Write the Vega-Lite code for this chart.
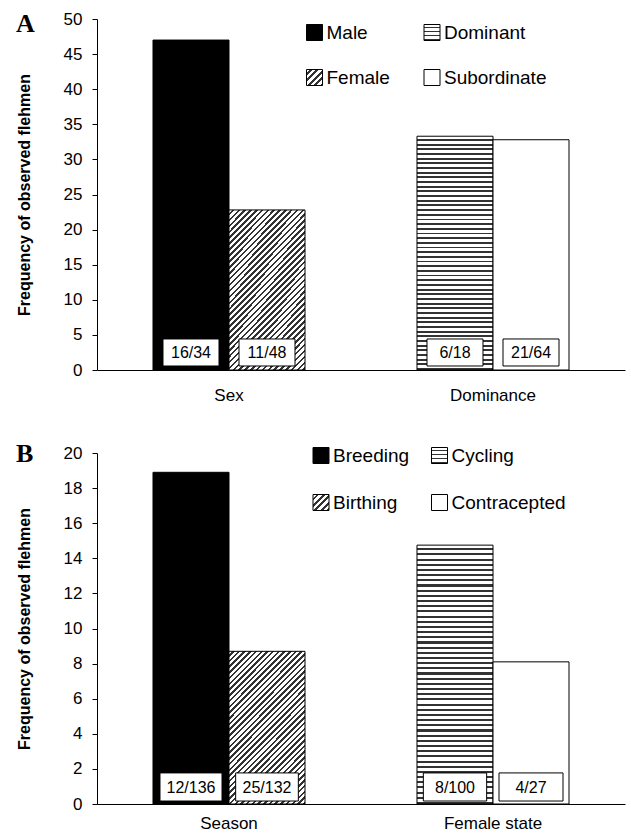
{
  "$schema": "https://vega.github.io/schema/vega-lite/v6.json",
  "background": "#ffffff",
  "padding": {"left": 16, "top": 10, "right": 5, "bottom": 5},
  "spacing": 38,
  "config": {
    "font": "Liberation Sans",
    "view": {"stroke": null},
    "axis": {"grid": false, "domainColor": "#000", "tickColor": "#000", "labelColor": "#000", "titleColor": "#000", "labelFont": "Liberation Sans", "titleFont": "Liberation Sans"}
  },
  "datasets": {
    "a": [
      {"group": "Sex", "pos": 1, "cat": "Male", "value": 47, "label": "16/34"},
      {"group": "Sex", "pos": 2, "cat": "Female", "value": 22.8, "label": "11/48"},
      {"group": "Dominance", "pos": 1, "cat": "Dominant", "value": 33.3, "label": "6/18"},
      {"group": "Dominance", "pos": 2, "cat": "Subordinate", "value": 32.8, "label": "21/64"}
    ],
    "b": [
      {"group": "Season", "pos": 1, "cat": "Breeding", "value": 18.9, "label": "12/136"},
      {"group": "Season", "pos": 2, "cat": "Birthing", "value": 8.7, "label": "25/132"},
      {"group": "Female state", "pos": 1, "cat": "Cycling", "value": 14.75, "label": "8/100"},
      {"group": "Female state", "pos": 2, "cat": "Contracepted", "value": 8.1, "label": "4/27"}
    ],
    "legA": [
      {"cat": "Male", "lcol": 0, "lrow": 0},
      {"cat": "Female", "lcol": 0, "lrow": 1},
      {"cat": "Dominant", "lcol": 1, "lrow": 0},
      {"cat": "Subordinate", "lcol": 1, "lrow": 1}
    ],
    "legB": [
      {"cat": "Breeding", "lcol": 0, "lrow": 0},
      {"cat": "Birthing", "lcol": 0, "lrow": 1},
      {"cat": "Cycling", "lcol": 1, "lrow": 0},
      {"cat": "Contracepted", "lcol": 1, "lrow": 1}
    ]
  },
  "vconcat": [
    {
      "title": {"text": "A", "anchor": "start", "frame": "bounds", "font": "Liberation Serif", "fontSize": 26, "fontWeight": "bold", "color": "#000", "baseline": "alphabetic", "offset": -48},
      "width": 528,
      "height": 351,
      "layer": [
        {
          "data": {"name": "a"},
          "encoding": {
            "x": {"field": "group", "type": "nominal", "sort": ["Sex", "Dominance"], "scale": {"paddingInner": 0, "paddingOuter": 0}, "axis": {"title": null, "labelAngle": 0, "ticks": false, "labelPadding": 17, "labelFontSize": 17}},
            "xOffset": {"field": "pos", "type": "nominal", "scale": {"paddingInner": 0, "paddingOuter": 0.7368}},
            "y": {"field": "value", "type": "quantitative", "scale": {"domain": [0, 50], "nice": false}, "axis": {"values": [0, 5, 10, 15, 20, 25, 30, 35, 40, 45, 50], "title": "Frequency of observed flehmen", "titleFontSize": 16, "titleFontWeight": "bold", "titlePadding": 31, "labelFontSize": 17, "tickSize": 5, "labelPadding": 10}}
          },
          "layer": [
            {"transform": [{"filter": "datum.cat === 'Male'"}], "mark": {"type": "bar", "fill": "#000", "stroke": "#000", "strokeWidth": 1}},
            {"transform": [{"filter": "datum.cat === 'Female'"}], "mark": {"type": "bar", "stroke": "#000", "strokeWidth": 1, "fill": {"gradient": "linear", "x1": 0, "y1": 0, "x2": 0.58, "y2": 1.2, "stops": [
        {"offset":0,"color":"#fff"},{"offset":0.014,"color":"#fff"},{"offset":0.014,"color":"#333"},{"offset":0.025,"color":"#333"},{"offset":0.025,"color":"#fff"},{"offset":0.039,"color":"#fff"},{"offset":0.039,"color":"#333"},{"offset":0.05,"color":"#333"},{"offset":0.05,"color":"#fff"},{"offset":0.064,"color":"#fff"},{"offset":0.064,"color":"#333"},{"offset":0.075,"color":"#333"},{"offset":0.075,"color":"#fff"},{"offset":0.089,"color":"#fff"},{"offset":0.089,"color":"#333"},{"offset":0.1,"color":"#333"},
        {"offset":0.1,"color":"#fff"},{"offset":0.114,"color":"#fff"},{"offset":0.114,"color":"#333"},{"offset":0.125,"color":"#333"},{"offset":0.125,"color":"#fff"},{"offset":0.139,"color":"#fff"},{"offset":0.139,"color":"#333"},{"offset":0.15,"color":"#333"},{"offset":0.15,"color":"#fff"},{"offset":0.164,"color":"#fff"},{"offset":0.164,"color":"#333"},{"offset":0.175,"color":"#333"},{"offset":0.175,"color":"#fff"},{"offset":0.189,"color":"#fff"},{"offset":0.189,"color":"#333"},{"offset":0.2,"color":"#333"},
        {"offset":0.2,"color":"#fff"},{"offset":0.214,"color":"#fff"},{"offset":0.214,"color":"#333"},{"offset":0.225,"color":"#333"},{"offset":0.225,"color":"#fff"},{"offset":0.239,"color":"#fff"},{"offset":0.239,"color":"#333"},{"offset":0.25,"color":"#333"},{"offset":0.25,"color":"#fff"},{"offset":0.264,"color":"#fff"},{"offset":0.264,"color":"#333"},{"offset":0.275,"color":"#333"},{"offset":0.275,"color":"#fff"},{"offset":0.289,"color":"#fff"},{"offset":0.289,"color":"#333"},{"offset":0.3,"color":"#333"},
        {"offset":0.3,"color":"#fff"},{"offset":0.314,"color":"#fff"},{"offset":0.314,"color":"#333"},{"offset":0.325,"color":"#333"},{"offset":0.325,"color":"#fff"},{"offset":0.339,"color":"#fff"},{"offset":0.339,"color":"#333"},{"offset":0.35,"color":"#333"},{"offset":0.35,"color":"#fff"},{"offset":0.364,"color":"#fff"},{"offset":0.364,"color":"#333"},{"offset":0.375,"color":"#333"},{"offset":0.375,"color":"#fff"},{"offset":0.389,"color":"#fff"},{"offset":0.389,"color":"#333"},{"offset":0.4,"color":"#333"},
        {"offset":0.4,"color":"#fff"},{"offset":0.414,"color":"#fff"},{"offset":0.414,"color":"#333"},{"offset":0.425,"color":"#333"},{"offset":0.425,"color":"#fff"},{"offset":0.439,"color":"#fff"},{"offset":0.439,"color":"#333"},{"offset":0.45,"color":"#333"},{"offset":0.45,"color":"#fff"},{"offset":0.464,"color":"#fff"},{"offset":0.464,"color":"#333"},{"offset":0.475,"color":"#333"},{"offset":0.475,"color":"#fff"},{"offset":0.489,"color":"#fff"},{"offset":0.489,"color":"#333"},{"offset":0.5,"color":"#333"},
        {"offset":0.5,"color":"#fff"},{"offset":0.514,"color":"#fff"},{"offset":0.514,"color":"#333"},{"offset":0.525,"color":"#333"},{"offset":0.525,"color":"#fff"},{"offset":0.539,"color":"#fff"},{"offset":0.539,"color":"#333"},{"offset":0.55,"color":"#333"},{"offset":0.55,"color":"#fff"},{"offset":0.564,"color":"#fff"},{"offset":0.564,"color":"#333"},{"offset":0.575,"color":"#333"},{"offset":0.575,"color":"#fff"},{"offset":0.589,"color":"#fff"},{"offset":0.589,"color":"#333"},{"offset":0.6,"color":"#333"},
        {"offset":0.6,"color":"#fff"},{"offset":0.614,"color":"#fff"},{"offset":0.614,"color":"#333"},{"offset":0.625,"color":"#333"},{"offset":0.625,"color":"#fff"},{"offset":0.639,"color":"#fff"},{"offset":0.639,"color":"#333"},{"offset":0.65,"color":"#333"},{"offset":0.65,"color":"#fff"},{"offset":0.664,"color":"#fff"},{"offset":0.664,"color":"#333"},{"offset":0.675,"color":"#333"},{"offset":0.675,"color":"#fff"},{"offset":0.689,"color":"#fff"},{"offset":0.689,"color":"#333"},{"offset":0.7,"color":"#333"},
        {"offset":0.7,"color":"#fff"},{"offset":0.714,"color":"#fff"},{"offset":0.714,"color":"#333"},{"offset":0.725,"color":"#333"},{"offset":0.725,"color":"#fff"},{"offset":0.739,"color":"#fff"},{"offset":0.739,"color":"#333"},{"offset":0.75,"color":"#333"},{"offset":0.75,"color":"#fff"},{"offset":0.764,"color":"#fff"},{"offset":0.764,"color":"#333"},{"offset":0.775,"color":"#333"},{"offset":0.775,"color":"#fff"},{"offset":0.789,"color":"#fff"},{"offset":0.789,"color":"#333"},{"offset":0.8,"color":"#333"},
        {"offset":0.8,"color":"#fff"},{"offset":0.814,"color":"#fff"},{"offset":0.814,"color":"#333"},{"offset":0.825,"color":"#333"},{"offset":0.825,"color":"#fff"},{"offset":0.839,"color":"#fff"},{"offset":0.839,"color":"#333"},{"offset":0.85,"color":"#333"},{"offset":0.85,"color":"#fff"},{"offset":0.864,"color":"#fff"},{"offset":0.864,"color":"#333"},{"offset":0.875,"color":"#333"},{"offset":0.875,"color":"#fff"},{"offset":0.889,"color":"#fff"},{"offset":0.889,"color":"#333"},{"offset":0.9,"color":"#333"},
        {"offset":0.9,"color":"#fff"},{"offset":0.914,"color":"#fff"},{"offset":0.914,"color":"#333"},{"offset":0.925,"color":"#333"},{"offset":0.925,"color":"#fff"},{"offset":0.939,"color":"#fff"},{"offset":0.939,"color":"#333"},{"offset":0.95,"color":"#333"},{"offset":0.95,"color":"#fff"},{"offset":0.964,"color":"#fff"},{"offset":0.964,"color":"#333"},{"offset":0.975,"color":"#333"},{"offset":0.975,"color":"#fff"},{"offset":0.989,"color":"#fff"},{"offset":0.989,"color":"#333"},{"offset":1,"color":"#333"}
      ]}}},
            {"transform": [{"filter": "datum.cat === 'Dominant'"}], "mark": {"type": "bar", "stroke": "#000", "strokeWidth": 1, "fill": {"gradient": "linear", "x1": 0, "y1": 0, "x2": 0, "y2": 1, "stops": [
        {"offset":0,"color":"#fff"},{"offset":0.012,"color":"#fff"},{"offset":0.012,"color":"#333"},{"offset":0.02,"color":"#333"},{"offset":0.02,"color":"#fff"},{"offset":0.032,"color":"#fff"},{"offset":0.032,"color":"#333"},{"offset":0.04,"color":"#333"},{"offset":0.04,"color":"#fff"},{"offset":0.052,"color":"#fff"},{"offset":0.052,"color":"#333"},{"offset":0.06,"color":"#333"},{"offset":0.06,"color":"#fff"},{"offset":0.072,"color":"#fff"},{"offset":0.072,"color":"#333"},{"offset":0.08,"color":"#333"},{"offset":0.08,"color":"#fff"},{"offset":0.092,"color":"#fff"},{"offset":0.092,"color":"#333"},{"offset":0.1,"color":"#333"},
        {"offset":0.1,"color":"#fff"},{"offset":0.112,"color":"#fff"},{"offset":0.112,"color":"#333"},{"offset":0.12,"color":"#333"},{"offset":0.12,"color":"#fff"},{"offset":0.132,"color":"#fff"},{"offset":0.132,"color":"#333"},{"offset":0.14,"color":"#333"},{"offset":0.14,"color":"#fff"},{"offset":0.152,"color":"#fff"},{"offset":0.152,"color":"#333"},{"offset":0.16,"color":"#333"},{"offset":0.16,"color":"#fff"},{"offset":0.172,"color":"#fff"},{"offset":0.172,"color":"#333"},{"offset":0.18,"color":"#333"},{"offset":0.18,"color":"#fff"},{"offset":0.192,"color":"#fff"},{"offset":0.192,"color":"#333"},{"offset":0.2,"color":"#333"},
        {"offset":0.2,"color":"#fff"},{"offset":0.212,"color":"#fff"},{"offset":0.212,"color":"#333"},{"offset":0.22,"color":"#333"},{"offset":0.22,"color":"#fff"},{"offset":0.232,"color":"#fff"},{"offset":0.232,"color":"#333"},{"offset":0.24,"color":"#333"},{"offset":0.24,"color":"#fff"},{"offset":0.252,"color":"#fff"},{"offset":0.252,"color":"#333"},{"offset":0.26,"color":"#333"},{"offset":0.26,"color":"#fff"},{"offset":0.272,"color":"#fff"},{"offset":0.272,"color":"#333"},{"offset":0.28,"color":"#333"},{"offset":0.28,"color":"#fff"},{"offset":0.292,"color":"#fff"},{"offset":0.292,"color":"#333"},{"offset":0.3,"color":"#333"},
        {"offset":0.3,"color":"#fff"},{"offset":0.312,"color":"#fff"},{"offset":0.312,"color":"#333"},{"offset":0.32,"color":"#333"},{"offset":0.32,"color":"#fff"},{"offset":0.332,"color":"#fff"},{"offset":0.332,"color":"#333"},{"offset":0.34,"color":"#333"},{"offset":0.34,"color":"#fff"},{"offset":0.352,"color":"#fff"},{"offset":0.352,"color":"#333"},{"offset":0.36,"color":"#333"},{"offset":0.36,"color":"#fff"},{"offset":0.372,"color":"#fff"},{"offset":0.372,"color":"#333"},{"offset":0.38,"color":"#333"},{"offset":0.38,"color":"#fff"},{"offset":0.392,"color":"#fff"},{"offset":0.392,"color":"#333"},{"offset":0.4,"color":"#333"},
        {"offset":0.4,"color":"#fff"},{"offset":0.412,"color":"#fff"},{"offset":0.412,"color":"#333"},{"offset":0.42,"color":"#333"},{"offset":0.42,"color":"#fff"},{"offset":0.432,"color":"#fff"},{"offset":0.432,"color":"#333"},{"offset":0.44,"color":"#333"},{"offset":0.44,"color":"#fff"},{"offset":0.452,"color":"#fff"},{"offset":0.452,"color":"#333"},{"offset":0.46,"color":"#333"},{"offset":0.46,"color":"#fff"},{"offset":0.472,"color":"#fff"},{"offset":0.472,"color":"#333"},{"offset":0.48,"color":"#333"},{"offset":0.48,"color":"#fff"},{"offset":0.492,"color":"#fff"},{"offset":0.492,"color":"#333"},{"offset":0.5,"color":"#333"},
        {"offset":0.5,"color":"#fff"},{"offset":0.512,"color":"#fff"},{"offset":0.512,"color":"#333"},{"offset":0.52,"color":"#333"},{"offset":0.52,"color":"#fff"},{"offset":0.532,"color":"#fff"},{"offset":0.532,"color":"#333"},{"offset":0.54,"color":"#333"},{"offset":0.54,"color":"#fff"},{"offset":0.552,"color":"#fff"},{"offset":0.552,"color":"#333"},{"offset":0.56,"color":"#333"},{"offset":0.56,"color":"#fff"},{"offset":0.572,"color":"#fff"},{"offset":0.572,"color":"#333"},{"offset":0.58,"color":"#333"},{"offset":0.58,"color":"#fff"},{"offset":0.592,"color":"#fff"},{"offset":0.592,"color":"#333"},{"offset":0.6,"color":"#333"},
        {"offset":0.6,"color":"#fff"},{"offset":0.612,"color":"#fff"},{"offset":0.612,"color":"#333"},{"offset":0.62,"color":"#333"},{"offset":0.62,"color":"#fff"},{"offset":0.632,"color":"#fff"},{"offset":0.632,"color":"#333"},{"offset":0.64,"color":"#333"},{"offset":0.64,"color":"#fff"},{"offset":0.652,"color":"#fff"},{"offset":0.652,"color":"#333"},{"offset":0.66,"color":"#333"},{"offset":0.66,"color":"#fff"},{"offset":0.672,"color":"#fff"},{"offset":0.672,"color":"#333"},{"offset":0.68,"color":"#333"},{"offset":0.68,"color":"#fff"},{"offset":0.692,"color":"#fff"},{"offset":0.692,"color":"#333"},{"offset":0.7,"color":"#333"},
        {"offset":0.7,"color":"#fff"},{"offset":0.712,"color":"#fff"},{"offset":0.712,"color":"#333"},{"offset":0.72,"color":"#333"},{"offset":0.72,"color":"#fff"},{"offset":0.732,"color":"#fff"},{"offset":0.732,"color":"#333"},{"offset":0.74,"color":"#333"},{"offset":0.74,"color":"#fff"},{"offset":0.752,"color":"#fff"},{"offset":0.752,"color":"#333"},{"offset":0.76,"color":"#333"},{"offset":0.76,"color":"#fff"},{"offset":0.772,"color":"#fff"},{"offset":0.772,"color":"#333"},{"offset":0.78,"color":"#333"},{"offset":0.78,"color":"#fff"},{"offset":0.792,"color":"#fff"},{"offset":0.792,"color":"#333"},{"offset":0.8,"color":"#333"},
        {"offset":0.8,"color":"#fff"},{"offset":0.812,"color":"#fff"},{"offset":0.812,"color":"#333"},{"offset":0.82,"color":"#333"},{"offset":0.82,"color":"#fff"},{"offset":0.832,"color":"#fff"},{"offset":0.832,"color":"#333"},{"offset":0.84,"color":"#333"},{"offset":0.84,"color":"#fff"},{"offset":0.852,"color":"#fff"},{"offset":0.852,"color":"#333"},{"offset":0.86,"color":"#333"},{"offset":0.86,"color":"#fff"},{"offset":0.872,"color":"#fff"},{"offset":0.872,"color":"#333"},{"offset":0.88,"color":"#333"},{"offset":0.88,"color":"#fff"},{"offset":0.892,"color":"#fff"},{"offset":0.892,"color":"#333"},{"offset":0.9,"color":"#333"},
        {"offset":0.9,"color":"#fff"},{"offset":0.912,"color":"#fff"},{"offset":0.912,"color":"#333"},{"offset":0.92,"color":"#333"},{"offset":0.92,"color":"#fff"},{"offset":0.932,"color":"#fff"},{"offset":0.932,"color":"#333"},{"offset":0.94,"color":"#333"},{"offset":0.94,"color":"#fff"},{"offset":0.952,"color":"#fff"},{"offset":0.952,"color":"#333"},{"offset":0.96,"color":"#333"},{"offset":0.96,"color":"#fff"},{"offset":0.972,"color":"#fff"},{"offset":0.972,"color":"#333"},{"offset":0.98,"color":"#333"},{"offset":0.98,"color":"#fff"},{"offset":0.992,"color":"#fff"},{"offset":0.992,"color":"#333"},{"offset":1,"color":"#333"}
      ]}}},
            {"transform": [{"filter": "datum.cat === 'Subordinate'"}], "mark": {"type": "bar", "fill": "#fff", "stroke": "#000", "strokeWidth": 1}},
            {"mark": {"type": "bar", "fill": "#fff", "stroke": "#000", "strokeWidth": 1}, "encoding": {"y": {"datum": 4.42, "type": "quantitative"}, "y2": {"datum": 0.57}, "size": {"field": "label", "type": "nominal", "scale": {"domain": ["16/34", "11/48", "6/18", "21/64"], "range": [56, 56, 46, 58]}, "legend": null}}},
            {"mark": {"type": "text", "fontSize": 16, "color": "#000"}, "encoding": {"y": {"datum": 2.45, "type": "quantitative"}, "text": {"field": "label"}}}
          ]
        },
        {
          "data": {"name": "legA"},
          "encoding": {
            "x": {"field": "lcol", "type": "quantitative", "scale": {"domain": [0, 1], "range": [217.5, 335]}, "axis": null},
            "y": {"field": "lrow", "type": "quantitative", "scale": {"domain": [0, 1], "range": [13.5, 58.5]}, "axis": null}
          },
          "layer": [
            {"transform": [{"filter": "datum.cat === 'Male'"}], "mark": {"type": "point", "shape": "square", "size": 256, "filled": true, "fill": "#000", "stroke": "#000", "strokeWidth": 1, "opacity": 1}},
            {"transform": [{"filter": "datum.cat === 'Female'"}], "mark": {"type": "point", "shape": "square", "size": 256, "filled": true, "stroke": "#000", "strokeWidth": 1, "opacity": 1, "fill": {"gradient": "linear", "x1": 0, "y1": 0, "x2": 1, "y2": 1, "stops": [
        {"offset":0,"color":"#fff"},{"offset":0.11,"color":"#fff"},{"offset":0.11,"color":"#333"},{"offset":0.2,"color":"#333"},{"offset":0.2,"color":"#fff"},{"offset":0.31,"color":"#fff"},{"offset":0.31,"color":"#333"},{"offset":0.4,"color":"#333"},{"offset":0.4,"color":"#fff"},{"offset":0.51,"color":"#fff"},{"offset":0.51,"color":"#333"},{"offset":0.6,"color":"#333"},{"offset":0.6,"color":"#fff"},{"offset":0.71,"color":"#fff"},{"offset":0.71,"color":"#333"},{"offset":0.8,"color":"#333"},{"offset":0.8,"color":"#fff"},{"offset":0.91,"color":"#fff"},{"offset":0.91,"color":"#333"},{"offset":1,"color":"#333"}
      ]}}},
            {"transform": [{"filter": "datum.cat === 'Dominant'"}], "mark": {"type": "point", "shape": "square", "size": 256, "filled": true, "stroke": "#000", "strokeWidth": 1, "opacity": 1, "fill": {"gradient": "linear", "x1": 0, "y1": 0, "x2": 0, "y2": 1, "stops": [
        {"offset":0,"color":"#fff"},{"offset":0.15,"color":"#fff"},{"offset":0.15,"color":"#333"},{"offset":0.25,"color":"#333"},{"offset":0.25,"color":"#fff"},{"offset":0.4,"color":"#fff"},{"offset":0.4,"color":"#333"},{"offset":0.5,"color":"#333"},{"offset":0.5,"color":"#fff"},{"offset":0.65,"color":"#fff"},{"offset":0.65,"color":"#333"},{"offset":0.75,"color":"#333"},{"offset":0.75,"color":"#fff"},{"offset":0.9,"color":"#fff"},{"offset":0.9,"color":"#333"},{"offset":1,"color":"#333"}
      ]}}},
            {"transform": [{"filter": "datum.cat === 'Subordinate'"}], "mark": {"type": "point", "shape": "square", "size": 256, "filled": true, "fill": "#fff", "stroke": "#000", "strokeWidth": 1, "opacity": 1}},
            {"mark": {"type": "text", "align": "left", "dx": 12, "fontSize": 19, "color": "#000"}, "encoding": {"text": {"field": "cat"}}}
          ]
        }
      ],
      "resolve": {"scale": {"x": "independent", "y": "independent", "size": "independent"}}
    },
    {
      "title": {"text": "B", "anchor": "start", "frame": "bounds", "font": "Liberation Serif", "fontSize": 26, "fontWeight": "bold", "color": "#000", "baseline": "alphabetic", "offset": -44},
      "width": 528,
      "height": 351,
      "layer": [
        {
          "data": {"name": "b"},
          "encoding": {
            "x": {"field": "group", "type": "nominal", "sort": ["Season", "Female state"], "scale": {"paddingInner": 0, "paddingOuter": 0}, "axis": {"title": null, "labelAngle": 0, "ticks": false, "labelPadding": 11, "labelFontSize": 17}},
            "xOffset": {"field": "pos", "type": "nominal", "scale": {"paddingInner": 0, "paddingOuter": 0.7368}},
            "y": {"field": "value", "type": "quantitative", "scale": {"domain": [0, 20], "nice": false}, "axis": {"values": [0, 2, 4, 6, 8, 10, 12, 14, 16, 18, 20], "title": "Frequency of observed flehmen", "titleFontSize": 16, "titleFontWeight": "bold", "titlePadding": 31, "labelFontSize": 17, "tickSize": 5, "labelPadding": 10}}
          },
          "layer": [
            {"transform": [{"filter": "datum.cat === 'Breeding'"}], "mark": {"type": "bar", "fill": "#000", "stroke": "#000", "strokeWidth": 1}},
            {"transform": [{"filter": "datum.cat === 'Birthing'"}], "mark": {"type": "bar", "stroke": "#000", "strokeWidth": 1, "fill": {"gradient": "linear", "x1": 0, "y1": 0, "x2": 0.6, "y2": 1.2, "stops": [
        {"offset":0,"color":"#fff"},{"offset":0.014,"color":"#fff"},{"offset":0.014,"color":"#333"},{"offset":0.025,"color":"#333"},{"offset":0.025,"color":"#fff"},{"offset":0.039,"color":"#fff"},{"offset":0.039,"color":"#333"},{"offset":0.05,"color":"#333"},{"offset":0.05,"color":"#fff"},{"offset":0.064,"color":"#fff"},{"offset":0.064,"color":"#333"},{"offset":0.075,"color":"#333"},{"offset":0.075,"color":"#fff"},{"offset":0.089,"color":"#fff"},{"offset":0.089,"color":"#333"},{"offset":0.1,"color":"#333"},
        {"offset":0.1,"color":"#fff"},{"offset":0.114,"color":"#fff"},{"offset":0.114,"color":"#333"},{"offset":0.125,"color":"#333"},{"offset":0.125,"color":"#fff"},{"offset":0.139,"color":"#fff"},{"offset":0.139,"color":"#333"},{"offset":0.15,"color":"#333"},{"offset":0.15,"color":"#fff"},{"offset":0.164,"color":"#fff"},{"offset":0.164,"color":"#333"},{"offset":0.175,"color":"#333"},{"offset":0.175,"color":"#fff"},{"offset":0.189,"color":"#fff"},{"offset":0.189,"color":"#333"},{"offset":0.2,"color":"#333"},
        {"offset":0.2,"color":"#fff"},{"offset":0.214,"color":"#fff"},{"offset":0.214,"color":"#333"},{"offset":0.225,"color":"#333"},{"offset":0.225,"color":"#fff"},{"offset":0.239,"color":"#fff"},{"offset":0.239,"color":"#333"},{"offset":0.25,"color":"#333"},{"offset":0.25,"color":"#fff"},{"offset":0.264,"color":"#fff"},{"offset":0.264,"color":"#333"},{"offset":0.275,"color":"#333"},{"offset":0.275,"color":"#fff"},{"offset":0.289,"color":"#fff"},{"offset":0.289,"color":"#333"},{"offset":0.3,"color":"#333"},
        {"offset":0.3,"color":"#fff"},{"offset":0.314,"color":"#fff"},{"offset":0.314,"color":"#333"},{"offset":0.325,"color":"#333"},{"offset":0.325,"color":"#fff"},{"offset":0.339,"color":"#fff"},{"offset":0.339,"color":"#333"},{"offset":0.35,"color":"#333"},{"offset":0.35,"color":"#fff"},{"offset":0.364,"color":"#fff"},{"offset":0.364,"color":"#333"},{"offset":0.375,"color":"#333"},{"offset":0.375,"color":"#fff"},{"offset":0.389,"color":"#fff"},{"offset":0.389,"color":"#333"},{"offset":0.4,"color":"#333"},
        {"offset":0.4,"color":"#fff"},{"offset":0.414,"color":"#fff"},{"offset":0.414,"color":"#333"},{"offset":0.425,"color":"#333"},{"offset":0.425,"color":"#fff"},{"offset":0.439,"color":"#fff"},{"offset":0.439,"color":"#333"},{"offset":0.45,"color":"#333"},{"offset":0.45,"color":"#fff"},{"offset":0.464,"color":"#fff"},{"offset":0.464,"color":"#333"},{"offset":0.475,"color":"#333"},{"offset":0.475,"color":"#fff"},{"offset":0.489,"color":"#fff"},{"offset":0.489,"color":"#333"},{"offset":0.5,"color":"#333"},
        {"offset":0.5,"color":"#fff"},{"offset":0.514,"color":"#fff"},{"offset":0.514,"color":"#333"},{"offset":0.525,"color":"#333"},{"offset":0.525,"color":"#fff"},{"offset":0.539,"color":"#fff"},{"offset":0.539,"color":"#333"},{"offset":0.55,"color":"#333"},{"offset":0.55,"color":"#fff"},{"offset":0.564,"color":"#fff"},{"offset":0.564,"color":"#333"},{"offset":0.575,"color":"#333"},{"offset":0.575,"color":"#fff"},{"offset":0.589,"color":"#fff"},{"offset":0.589,"color":"#333"},{"offset":0.6,"color":"#333"},
        {"offset":0.6,"color":"#fff"},{"offset":0.614,"color":"#fff"},{"offset":0.614,"color":"#333"},{"offset":0.625,"color":"#333"},{"offset":0.625,"color":"#fff"},{"offset":0.639,"color":"#fff"},{"offset":0.639,"color":"#333"},{"offset":0.65,"color":"#333"},{"offset":0.65,"color":"#fff"},{"offset":0.664,"color":"#fff"},{"offset":0.664,"color":"#333"},{"offset":0.675,"color":"#333"},{"offset":0.675,"color":"#fff"},{"offset":0.689,"color":"#fff"},{"offset":0.689,"color":"#333"},{"offset":0.7,"color":"#333"},
        {"offset":0.7,"color":"#fff"},{"offset":0.714,"color":"#fff"},{"offset":0.714,"color":"#333"},{"offset":0.725,"color":"#333"},{"offset":0.725,"color":"#fff"},{"offset":0.739,"color":"#fff"},{"offset":0.739,"color":"#333"},{"offset":0.75,"color":"#333"},{"offset":0.75,"color":"#fff"},{"offset":0.764,"color":"#fff"},{"offset":0.764,"color":"#333"},{"offset":0.775,"color":"#333"},{"offset":0.775,"color":"#fff"},{"offset":0.789,"color":"#fff"},{"offset":0.789,"color":"#333"},{"offset":0.8,"color":"#333"},
        {"offset":0.8,"color":"#fff"},{"offset":0.814,"color":"#fff"},{"offset":0.814,"color":"#333"},{"offset":0.825,"color":"#333"},{"offset":0.825,"color":"#fff"},{"offset":0.839,"color":"#fff"},{"offset":0.839,"color":"#333"},{"offset":0.85,"color":"#333"},{"offset":0.85,"color":"#fff"},{"offset":0.864,"color":"#fff"},{"offset":0.864,"color":"#333"},{"offset":0.875,"color":"#333"},{"offset":0.875,"color":"#fff"},{"offset":0.889,"color":"#fff"},{"offset":0.889,"color":"#333"},{"offset":0.9,"color":"#333"},
        {"offset":0.9,"color":"#fff"},{"offset":0.914,"color":"#fff"},{"offset":0.914,"color":"#333"},{"offset":0.925,"color":"#333"},{"offset":0.925,"color":"#fff"},{"offset":0.939,"color":"#fff"},{"offset":0.939,"color":"#333"},{"offset":0.95,"color":"#333"},{"offset":0.95,"color":"#fff"},{"offset":0.964,"color":"#fff"},{"offset":0.964,"color":"#333"},{"offset":0.975,"color":"#333"},{"offset":0.975,"color":"#fff"},{"offset":0.989,"color":"#fff"},{"offset":0.989,"color":"#333"},{"offset":1,"color":"#333"}
      ]}}},
            {"transform": [{"filter": "datum.cat === 'Cycling'"}], "mark": {"type": "bar", "stroke": "#000", "strokeWidth": 1, "fill": {"gradient": "linear", "x1": 0, "y1": 0, "x2": 0, "y2": 1, "stops": [
        {"offset":0,"color":"#fff"},{"offset":0.012,"color":"#fff"},{"offset":0.012,"color":"#333"},{"offset":0.02,"color":"#333"},{"offset":0.02,"color":"#fff"},{"offset":0.032,"color":"#fff"},{"offset":0.032,"color":"#333"},{"offset":0.04,"color":"#333"},{"offset":0.04,"color":"#fff"},{"offset":0.052,"color":"#fff"},{"offset":0.052,"color":"#333"},{"offset":0.06,"color":"#333"},{"offset":0.06,"color":"#fff"},{"offset":0.072,"color":"#fff"},{"offset":0.072,"color":"#333"},{"offset":0.08,"color":"#333"},{"offset":0.08,"color":"#fff"},{"offset":0.092,"color":"#fff"},{"offset":0.092,"color":"#333"},{"offset":0.1,"color":"#333"},
        {"offset":0.1,"color":"#fff"},{"offset":0.112,"color":"#fff"},{"offset":0.112,"color":"#333"},{"offset":0.12,"color":"#333"},{"offset":0.12,"color":"#fff"},{"offset":0.132,"color":"#fff"},{"offset":0.132,"color":"#333"},{"offset":0.14,"color":"#333"},{"offset":0.14,"color":"#fff"},{"offset":0.152,"color":"#fff"},{"offset":0.152,"color":"#333"},{"offset":0.16,"color":"#333"},{"offset":0.16,"color":"#fff"},{"offset":0.172,"color":"#fff"},{"offset":0.172,"color":"#333"},{"offset":0.18,"color":"#333"},{"offset":0.18,"color":"#fff"},{"offset":0.192,"color":"#fff"},{"offset":0.192,"color":"#333"},{"offset":0.2,"color":"#333"},
        {"offset":0.2,"color":"#fff"},{"offset":0.212,"color":"#fff"},{"offset":0.212,"color":"#333"},{"offset":0.22,"color":"#333"},{"offset":0.22,"color":"#fff"},{"offset":0.232,"color":"#fff"},{"offset":0.232,"color":"#333"},{"offset":0.24,"color":"#333"},{"offset":0.24,"color":"#fff"},{"offset":0.252,"color":"#fff"},{"offset":0.252,"color":"#333"},{"offset":0.26,"color":"#333"},{"offset":0.26,"color":"#fff"},{"offset":0.272,"color":"#fff"},{"offset":0.272,"color":"#333"},{"offset":0.28,"color":"#333"},{"offset":0.28,"color":"#fff"},{"offset":0.292,"color":"#fff"},{"offset":0.292,"color":"#333"},{"offset":0.3,"color":"#333"},
        {"offset":0.3,"color":"#fff"},{"offset":0.312,"color":"#fff"},{"offset":0.312,"color":"#333"},{"offset":0.32,"color":"#333"},{"offset":0.32,"color":"#fff"},{"offset":0.332,"color":"#fff"},{"offset":0.332,"color":"#333"},{"offset":0.34,"color":"#333"},{"offset":0.34,"color":"#fff"},{"offset":0.352,"color":"#fff"},{"offset":0.352,"color":"#333"},{"offset":0.36,"color":"#333"},{"offset":0.36,"color":"#fff"},{"offset":0.372,"color":"#fff"},{"offset":0.372,"color":"#333"},{"offset":0.38,"color":"#333"},{"offset":0.38,"color":"#fff"},{"offset":0.392,"color":"#fff"},{"offset":0.392,"color":"#333"},{"offset":0.4,"color":"#333"},
        {"offset":0.4,"color":"#fff"},{"offset":0.412,"color":"#fff"},{"offset":0.412,"color":"#333"},{"offset":0.42,"color":"#333"},{"offset":0.42,"color":"#fff"},{"offset":0.432,"color":"#fff"},{"offset":0.432,"color":"#333"},{"offset":0.44,"color":"#333"},{"offset":0.44,"color":"#fff"},{"offset":0.452,"color":"#fff"},{"offset":0.452,"color":"#333"},{"offset":0.46,"color":"#333"},{"offset":0.46,"color":"#fff"},{"offset":0.472,"color":"#fff"},{"offset":0.472,"color":"#333"},{"offset":0.48,"color":"#333"},{"offset":0.48,"color":"#fff"},{"offset":0.492,"color":"#fff"},{"offset":0.492,"color":"#333"},{"offset":0.5,"color":"#333"},
        {"offset":0.5,"color":"#fff"},{"offset":0.512,"color":"#fff"},{"offset":0.512,"color":"#333"},{"offset":0.52,"color":"#333"},{"offset":0.52,"color":"#fff"},{"offset":0.532,"color":"#fff"},{"offset":0.532,"color":"#333"},{"offset":0.54,"color":"#333"},{"offset":0.54,"color":"#fff"},{"offset":0.552,"color":"#fff"},{"offset":0.552,"color":"#333"},{"offset":0.56,"color":"#333"},{"offset":0.56,"color":"#fff"},{"offset":0.572,"color":"#fff"},{"offset":0.572,"color":"#333"},{"offset":0.58,"color":"#333"},{"offset":0.58,"color":"#fff"},{"offset":0.592,"color":"#fff"},{"offset":0.592,"color":"#333"},{"offset":0.6,"color":"#333"},
        {"offset":0.6,"color":"#fff"},{"offset":0.612,"color":"#fff"},{"offset":0.612,"color":"#333"},{"offset":0.62,"color":"#333"},{"offset":0.62,"color":"#fff"},{"offset":0.632,"color":"#fff"},{"offset":0.632,"color":"#333"},{"offset":0.64,"color":"#333"},{"offset":0.64,"color":"#fff"},{"offset":0.652,"color":"#fff"},{"offset":0.652,"color":"#333"},{"offset":0.66,"color":"#333"},{"offset":0.66,"color":"#fff"},{"offset":0.672,"color":"#fff"},{"offset":0.672,"color":"#333"},{"offset":0.68,"color":"#333"},{"offset":0.68,"color":"#fff"},{"offset":0.692,"color":"#fff"},{"offset":0.692,"color":"#333"},{"offset":0.7,"color":"#333"},
        {"offset":0.7,"color":"#fff"},{"offset":0.712,"color":"#fff"},{"offset":0.712,"color":"#333"},{"offset":0.72,"color":"#333"},{"offset":0.72,"color":"#fff"},{"offset":0.732,"color":"#fff"},{"offset":0.732,"color":"#333"},{"offset":0.74,"color":"#333"},{"offset":0.74,"color":"#fff"},{"offset":0.752,"color":"#fff"},{"offset":0.752,"color":"#333"},{"offset":0.76,"color":"#333"},{"offset":0.76,"color":"#fff"},{"offset":0.772,"color":"#fff"},{"offset":0.772,"color":"#333"},{"offset":0.78,"color":"#333"},{"offset":0.78,"color":"#fff"},{"offset":0.792,"color":"#fff"},{"offset":0.792,"color":"#333"},{"offset":0.8,"color":"#333"},
        {"offset":0.8,"color":"#fff"},{"offset":0.812,"color":"#fff"},{"offset":0.812,"color":"#333"},{"offset":0.82,"color":"#333"},{"offset":0.82,"color":"#fff"},{"offset":0.832,"color":"#fff"},{"offset":0.832,"color":"#333"},{"offset":0.84,"color":"#333"},{"offset":0.84,"color":"#fff"},{"offset":0.852,"color":"#fff"},{"offset":0.852,"color":"#333"},{"offset":0.86,"color":"#333"},{"offset":0.86,"color":"#fff"},{"offset":0.872,"color":"#fff"},{"offset":0.872,"color":"#333"},{"offset":0.88,"color":"#333"},{"offset":0.88,"color":"#fff"},{"offset":0.892,"color":"#fff"},{"offset":0.892,"color":"#333"},{"offset":0.9,"color":"#333"},
        {"offset":0.9,"color":"#fff"},{"offset":0.912,"color":"#fff"},{"offset":0.912,"color":"#333"},{"offset":0.92,"color":"#333"},{"offset":0.92,"color":"#fff"},{"offset":0.932,"color":"#fff"},{"offset":0.932,"color":"#333"},{"offset":0.94,"color":"#333"},{"offset":0.94,"color":"#fff"},{"offset":0.952,"color":"#fff"},{"offset":0.952,"color":"#333"},{"offset":0.96,"color":"#333"},{"offset":0.96,"color":"#fff"},{"offset":0.972,"color":"#fff"},{"offset":0.972,"color":"#333"},{"offset":0.98,"color":"#333"},{"offset":0.98,"color":"#fff"},{"offset":0.992,"color":"#fff"},{"offset":0.992,"color":"#333"},{"offset":1,"color":"#333"}
      ]}}},
            {"transform": [{"filter": "datum.cat === 'Contracepted'"}], "mark": {"type": "bar", "fill": "#fff", "stroke": "#000", "strokeWidth": 1}},
            {"mark": {"type": "bar", "fill": "#fff", "stroke": "#000", "strokeWidth": 1}, "encoding": {"y": {"datum": 1.77, "type": "quantitative"}, "y2": {"datum": 0.17}, "size": {"field": "label", "type": "nominal", "scale": {"domain": ["12/136", "25/132", "8/100", "4/27"], "range": [62, 64, 56, 46]}, "legend": null}}},
            {"mark": {"type": "text", "fontSize": 16, "color": "#000"}, "encoding": {"y": {"datum": 0.92, "type": "quantitative"}, "text": {"field": "label"}}}
          ]
        },
        {
          "data": {"name": "legB"},
          "encoding": {
            "x": {"field": "lcol", "type": "quantitative", "scale": {"domain": [0, 1], "range": [224, 342.5]}, "axis": null},
            "y": {"field": "lrow", "type": "quantitative", "scale": {"domain": [0, 1], "range": [2.5, 49.5]}, "axis": null}
          },
          "layer": [
            {"transform": [{"filter": "datum.cat === 'Breeding'"}], "mark": {"type": "point", "shape": "square", "size": 256, "filled": true, "fill": "#000", "stroke": "#000", "strokeWidth": 1, "opacity": 1}},
            {"transform": [{"filter": "datum.cat === 'Birthing'"}], "mark": {"type": "point", "shape": "square", "size": 256, "filled": true, "stroke": "#000", "strokeWidth": 1, "opacity": 1, "fill": {"gradient": "linear", "x1": 0, "y1": 0, "x2": 1, "y2": 1, "stops": [
        {"offset":0,"color":"#fff"},{"offset":0.11,"color":"#fff"},{"offset":0.11,"color":"#333"},{"offset":0.2,"color":"#333"},{"offset":0.2,"color":"#fff"},{"offset":0.31,"color":"#fff"},{"offset":0.31,"color":"#333"},{"offset":0.4,"color":"#333"},{"offset":0.4,"color":"#fff"},{"offset":0.51,"color":"#fff"},{"offset":0.51,"color":"#333"},{"offset":0.6,"color":"#333"},{"offset":0.6,"color":"#fff"},{"offset":0.71,"color":"#fff"},{"offset":0.71,"color":"#333"},{"offset":0.8,"color":"#333"},{"offset":0.8,"color":"#fff"},{"offset":0.91,"color":"#fff"},{"offset":0.91,"color":"#333"},{"offset":1,"color":"#333"}
      ]}}},
            {"transform": [{"filter": "datum.cat === 'Cycling'"}], "mark": {"type": "point", "shape": "square", "size": 256, "filled": true, "stroke": "#000", "strokeWidth": 1, "opacity": 1, "fill": {"gradient": "linear", "x1": 0, "y1": 0, "x2": 0, "y2": 1, "stops": [
        {"offset":0,"color":"#fff"},{"offset":0.15,"color":"#fff"},{"offset":0.15,"color":"#333"},{"offset":0.25,"color":"#333"},{"offset":0.25,"color":"#fff"},{"offset":0.4,"color":"#fff"},{"offset":0.4,"color":"#333"},{"offset":0.5,"color":"#333"},{"offset":0.5,"color":"#fff"},{"offset":0.65,"color":"#fff"},{"offset":0.65,"color":"#333"},{"offset":0.75,"color":"#333"},{"offset":0.75,"color":"#fff"},{"offset":0.9,"color":"#fff"},{"offset":0.9,"color":"#333"},{"offset":1,"color":"#333"}
      ]}}},
            {"transform": [{"filter": "datum.cat === 'Contracepted'"}], "mark": {"type": "point", "shape": "square", "size": 256, "filled": true, "fill": "#fff", "stroke": "#000", "strokeWidth": 1, "opacity": 1}},
            {"mark": {"type": "text", "align": "left", "dx": 12, "fontSize": 19, "color": "#000"}, "encoding": {"text": {"field": "cat"}}}
          ]
        }
      ],
      "resolve": {"scale": {"x": "independent", "y": "independent", "size": "independent"}}
    }
  ]
}
